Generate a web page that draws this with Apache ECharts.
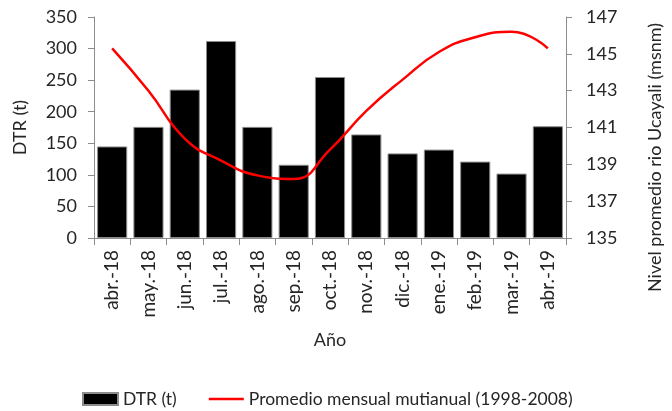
<!DOCTYPE html>
<html>
<head>
<meta charset="utf-8">
<script src="https://cdn.jsdelivr.net/npm/echarts@6/dist/echarts.min.js"></script>
<style>
  html, body { margin: 0; padding: 0; background: #fff; }
  #chart { width: 672px; height: 411px; }
</style>
</head>
<body>
<div id="chart"></div>
<script>
// meses
var months = ['abr.-18', 'may.-18', 'jun.-18', 'jul.-18', 'ago.-18', 'sep.-18', 'oct.-18',
              'nov.-18', 'dic.-18', 'ene.-19', 'feb.-19', 'mar.-19', 'abr.-19'];
// DTR (t)
var dtr = [145, 176, 235, 312, 176, 116, 255, 164, 134, 140, 121, 102, 177];
// nivel promedio rio Ucayali (msnm)
var nivel = [145.3, 143.0, 140.4, 139.2, 138.4, 138.2, 139.8, 141.9, 143.6, 145.1, 145.9, 146.2, 145.3];

var font = 'Lato';
var txt = '#262626';
var axisCol = '#8c8c8c';

var myChart = echarts.init(document.getElementById('chart'));
var option = {
    animation: false,
    textStyle: { fontFamily: font },
    grid: { left: 94, right: 87, top: 17, bottom: 173 },
    legend: {
        left: 82,
        top: 390,
        padding: 0,
        itemWidth: 35,
        itemHeight: 12,
        itemGap: 32,
        textStyle: { fontFamily: font, fontSize: 17.5, color: txt },
        data: [
            { name: 'DTR (t)', icon: 'rect' },
            { name: 'Promedio mensual mutianual (1998-2008)', icon: 'path://M0,0 L40,0 L40,3 L0,3 Z' }
        ]
    },
    xAxis: {
        type: 'category',
        data: months,
        name: 'Año',
        nameLocation: 'middle',
        nameGap: 93,
        nameTextStyle: { fontFamily: font, fontSize: 18, color: txt },
        axisLine: { lineStyle: { color: axisCol } },
        axisTick: { show: true, length: 7, lineStyle: { color: axisCol } },
        axisLabel: { rotate: 90, fontFamily: font, fontSize: 19, color: txt, margin: 12 }
    },
    yAxis: [
        {
            type: 'value',
            min: 0, max: 350, interval: 50,
            name: 'DTR (t)',
            nameLocation: 'middle',
            nameGap: 65,
            nameTextStyle: { fontFamily: font, fontSize: 18, color: txt },
            axisLine: { show: true, lineStyle: { color: axisCol } },
            axisTick: { show: true, length: 6, lineStyle: { color: axisCol } },
            axisLabel: { fontFamily: font, fontSize: 18, color: txt, margin: 17 },
            splitLine: { show: false }
        },
        {
            type: 'value',
            min: 135, max: 147, interval: 2,
            position: 'right',
            name: 'Nivel promedio rio Ucayali (msnm)',
            nameLocation: 'middle',
            nameRotate: 90,
            nameGap: 80,
            nameTextStyle: { fontFamily: font, fontSize: 18, color: txt, padding: [0, 60, 0, 0] },
            axisLine: { show: true, lineStyle: { color: axisCol } },
            axisTick: { show: true, length: 6, lineStyle: { color: axisCol } },
            axisLabel: { fontFamily: font, fontSize: 18, color: txt, margin: 20 },
            splitLine: { show: false }
        }
    ],
    series: [
        {
            name: 'DTR (t)',
            type: 'bar',
            data: dtr,
            barCategoryGap: '17%',
            itemStyle: { color: '#000', borderColor: '#8c8c8c', borderWidth: 1 }
        },
        {
            name: 'Promedio mensual mutianual (1998-2008)',
            type: 'line',
            yAxisIndex: 1,
            data: nivel,
            smooth: 0.5,
            symbol: 'none',
            lineStyle: { color: '#ff0000', width: 2.5 },
            itemStyle: { color: '#ff0000' }
        }
    ]
};
myChart.setOption(option);
</script>
</body>
</html>
